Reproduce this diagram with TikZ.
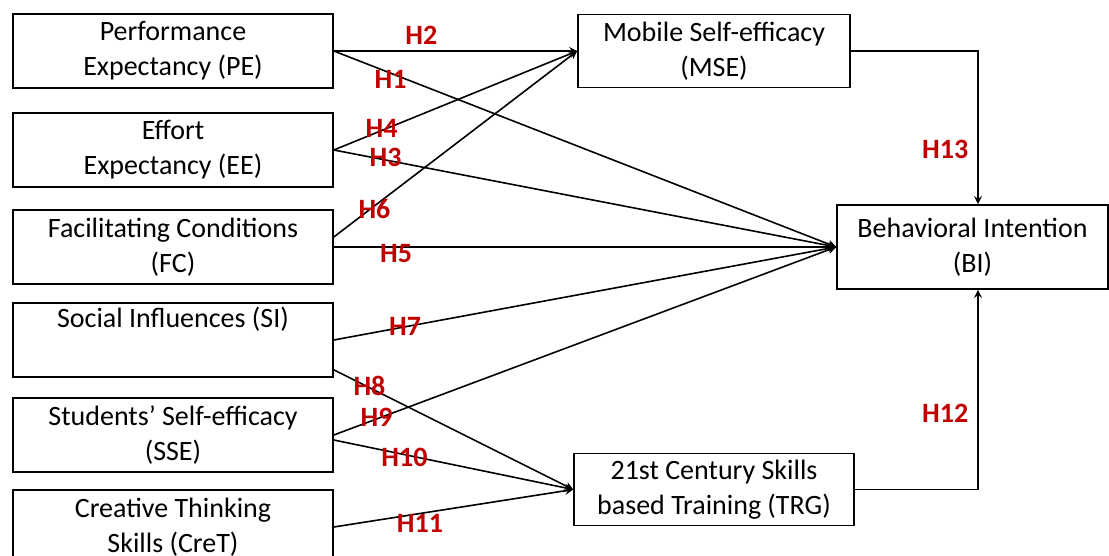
\documentclass[tikz,border=0pt]{standalone}
\usepackage{fontspec}
\setmainfont{Carlito}
\usepackage{tikz}
\usetikzlibrary{positioning,arrows}

\definecolor{hypred}{RGB}{192,0,0}

\tikzset{
	factor/.style={rectangle, draw, line width=0.8pt, minimum width=160pt, minimum height=37pt, align=center, inner sep=2pt, font=\fontsize{14}{17.5}\selectfont},
	hyp/.style={inner sep=0pt, text=hypred, font=\fontsize{14}{16}\selectfont\bfseries},
	link/.style={-stealth, line width=0.8pt}
}

\begin{document}
\begin{tikzpicture}

	\useasboundingbox (0,0) rectangle (554.5pt,-278pt);

	\node[factor] (PE) at (86.5pt,-25.5pt) {Performance\\Expectancy (PE)};
	\node[factor, below=11.7pt of PE] (EE) {Effort\\Expectancy (EE)};
	\node[factor, below=10.7pt of EE] (FC) {Facilitating Conditions\\(FC)};
	\node[factor, below=8.7pt of FC] (SI) {Social Influences (SI)\\\strut};
	\node[factor, below=9.7pt of SI] (SSE) {Students’ Self-efficacy\\(SSE)};
	\node[factor, below=8.2pt of SSE] (CreT) {Creative Thinking\\Skills (CreT)};

	\node[factor, right=121.7pt of PE, minimum width=136pt, minimum height=36.5pt] (MSE) {Mobile Self-efficacy\\(MSE)};
	\node[factor, right=251.2pt of FC, minimum width=135.5pt, minimum height=42pt] (BI) {Behavioral Intention\\(BI)};
	\node[factor, below=182.2pt of MSE, minimum width=140pt, minimum height=36pt] (TRG) {21st Century Skills\\based Training (TRG)};

	\draw[link] (PE.east) -- node[hyp, pos=0.36, yshift=7.75pt] {H2} (MSE.west);
	\draw[link] (PE.east) -- node[hyp, pos=0.113, yshift=-3.25pt] {H1} (BI.west);
	\draw[link] (EE.east) -- node[hyp, pos=0.196, yshift=1pt] {H4} (MSE.west);
	\draw[link] (EE.east) -- node[hyp, pos=0.103, yshift=1.25pt] {H3} (BI.west);
	\draw[link] ([yshift=5pt]FC.east) -- node[hyp, pos=0.167, yshift=-1.75pt] {H6} (MSE.west);
	\draw[link] (FC.east) -- node[hyp, pos=0.124, yshift=-3.5pt] {H5} (BI.west);
	\draw[link] (SI.east) -- node[hyp, pos=0.142] {H7} (BI.west);
	\draw[link] ([yshift=4pt]SI.south east) -- node[hyp, pos=0.149, yshift=1pt] {H8} (TRG.west);
	\draw[link] (SSE.east) -- node[hyp, pos=0.085, yshift=1pt] {H9} (BI.west);
	\draw[link] ([yshift=-2.5pt]SSE.east) -- node[hyp, pos=0.295, yshift=-1.25pt] {H10} (TRG.west);
	\draw[link] (CreT.east) -- node[hyp, pos=0.36, yshift=-5pt] {H11} (TRG.west);

	\draw[link] (MSE.east) -| node[hyp, pos=0.82, anchor=east, xshift=-4.5pt] {H13} ([xshift=2.75pt]BI.north);
	\draw[link] (TRG.east) -| node[hyp, pos=0.69, anchor=east, xshift=-4.5pt] {H12} ([xshift=2.75pt]BI.south);

\end{tikzpicture}
\end{document}
